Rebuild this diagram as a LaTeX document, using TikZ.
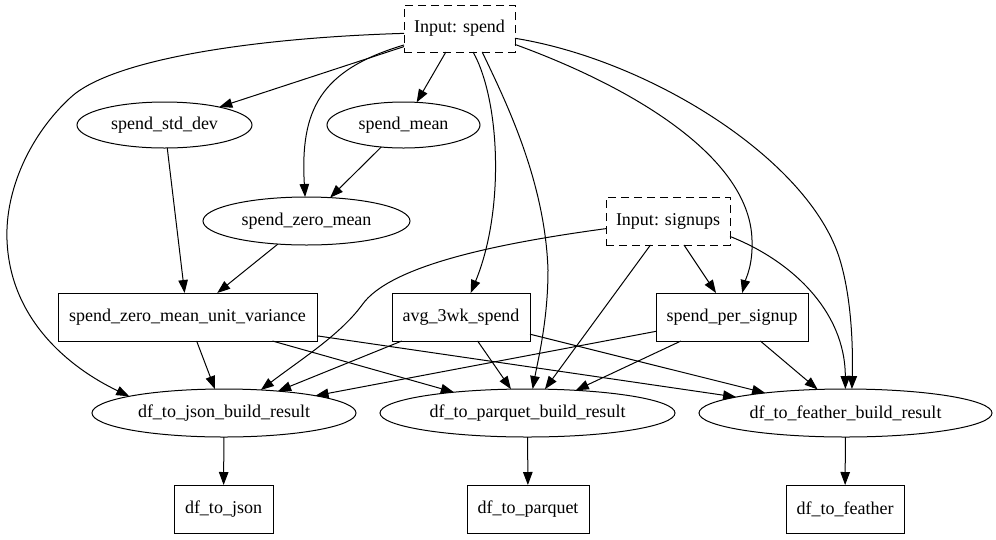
\documentclass[tikz,border=0pt]{standalone}
\usepackage{fontspec}
\setmainfont{Liberation Serif}
\usetikzlibrary{shapes.geometric,arrows.meta}
\begin{document}
\begin{tikzpicture}[x=1pt,y=-1pt,
  every node/.style={font=\fontsize{18}{20}\selectfont, inner sep=0pt, outer sep=0pt},
  ell/.style={draw, ellipse, line width=1pt, minimum height=46pt},
  rbox/.style={draw, rectangle, line width=1pt, minimum height=48pt},
  ibox/.style={draw, rectangle, line width=1pt, minimum height=47pt, dash pattern=on 8pt off 5pt},
  conn/.style={draw, line width=1pt, -{Triangle[length=13pt,width=9.5pt]}}]
\useasboundingbox (0,0) rectangle (996,539);

\node[ibox, minimum width=111pt] (spend) at (459.5,28.5) {Input: spend};
\node[ell, minimum width=175pt] (sstd) at (164.5,125) {spend\_std\_dev};
\node[ell, minimum width=153pt] (smean) at (403.5,125) {spend\_mean};
\node[ell, minimum width=207pt, minimum height=48pt] (szm) at (306.5,221) {spend\_zero\_mean};
\node[ibox, minimum width=124pt, minimum height=48pt] (sign) at (668,221) {Input: signups};
\node[rbox, minimum width=259pt] (szmuv) at (187.5,317) {spend\_zero\_mean\_unit\_variance};
\node[rbox, minimum width=138pt] (avg) at (461,317) {avg\_3wk\_spend};
\node[rbox, minimum width=152pt] (sps) at (732,317) {spend\_per\_signup};
\node[ell, minimum width=264pt, minimum height=48pt] (jb) at (224,413) {df\_to\_json\_build\_result};
\node[ell, minimum width=295pt, minimum height=48pt] (pb) at (527.5,413) {df\_to\_parquet\_build\_result};
\node[ell, minimum width=293pt, minimum height=48pt] (fb) at (845.5,413) {df\_to\_feather\_build\_result};
\node[rbox, minimum width=99pt] (dj) at (223.5,509) {df\_to\_json};
\node[rbox, minimum width=122pt] (dp) at (528,509) {df\_to\_parquet};
\node[rbox, minimum width=118pt] (df) at (845,509) {df\_to\_feather};

% from Input: spend
\draw[conn] (spend) -- (sstd);
\draw[conn] (spend) -- (smean);
\draw[conn] (spend) .. controls (320,70) and (300,110) .. (szm);
\draw[conn] (spend.185) .. controls (250,38) and (110,60) .. (70,98) .. controls (30,135) and (5,190) .. (7,240) .. controls (10,320) and (70,368) .. (jb.170);
\draw[conn] (spend.-60) .. controls (500,100) and (505,210) .. (avg.68);
\draw[conn] (spend.-46) .. controls (505,100) and (545,180) .. (548,270) .. controls (548,320) and (538,360) .. (pb.78);
\draw[conn] (spend.-16) .. controls (640,90) and (750,160) .. (752,240) .. controls (753,265) and (746,278) .. (sps.67);
\draw[conn] (spend.-10) .. controls (650,60) and (810,160) .. (840,260) .. controls (852,300) and (853,350) .. (fb.75);

% middle layers
\draw[conn] (smean) -- (szm);
\draw[conn] (sstd) -- (szmuv);
\draw[conn] (szm) -- (szmuv);

% from Input: signups
\draw[conn] (sign.187) .. controls (500,243) and (390,265) .. (362,305) .. controls (340,335) and (300,360) .. (jb.32);
\draw[conn] (sign) -- (pb);
\draw[conn] (sign) -- (sps);
\draw[conn] (sign.-14) .. controls (790,260) and (845,310) .. (fb);

% to build results
\draw[conn] (szmuv) -- (jb);
\draw[conn] (szmuv) -- (pb);
\draw[conn] (szmuv) -- (fb);
\draw[conn] (avg) -- (jb);
\draw[conn] (avg) -- (pb);
\draw[conn] (avg) -- (fb);
\draw[conn] (sps) -- (jb);
\draw[conn] (sps) -- (pb);
\draw[conn] (sps) -- (fb);

% outputs
\draw[conn] (jb) -- (dj);
\draw[conn] (pb) -- (dp);
\draw[conn] (fb) -- (df);
\end{tikzpicture}
\end{document}
